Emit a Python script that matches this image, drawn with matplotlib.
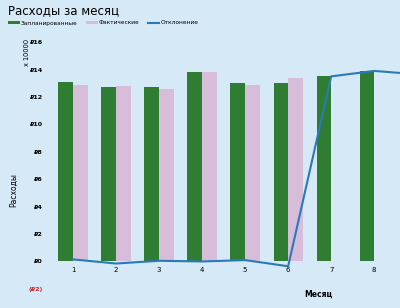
import matplotlib.pyplot as plt
import numpy as np

months = [1, 2, 3, 4, 5, 6, 7, 8]
planned = [13.1, 12.7, 12.7, 13.8, 13.0, 13.05, 13.5, 13.9]
actual = [12.9, 12.8, 12.55, 13.8, 12.85, 13.4, 0, 0]
dev_months = [1, 2, 3, 4, 5, 6, 7, 8, 9]
deviation = [0.15, -0.15, 0.05, 0.0, 0.1, -0.35, 13.5, 13.9, 13.65]
yticks = [-2, 0, 2, 4, 6, 8, 10, 12, 14, 16]

bg = '#d6e9f6'
green = '#2f7d32'
pink = '#d8bddb'
blue = '#2a7ab8'

fig = plt.figure(figsize=(4, 3.08), dpi=100, facecolor=bg)
ax = fig.add_axes([50 / 400, 1 - 293 / 308, 350 / 400, (293 - 38) / 308])
ax.set_facecolor(bg)

x = np.array(months)
w = 0.34
b1 = ax.bar(x - w / 2, planned, width=w, color=green, label='Запланированные')
b2 = ax.bar(x + w / 2, actual, width=w, color=pink, label='Фактические')
l1, = ax.plot(dev_months, deviation, color=blue, linewidth=1.5, label='Отклонение')

ax.set_xlim(0.465, 8.6)
ax.set_ylim(-2.3, 16.3)
for s in ax.spines.values():
    s.set_visible(False)
ax.spines['bottom'].set_position(('data', 0))
ax.set_xticks(months)
ax.set_xticklabels([str(m) for m in months], fontsize=5)
ax.set_yticks(yticks)
labels = []
for v in yticks:
    labels.append('(₽%d)' % abs(v) if v < 0 else '₽%d' % v)
ax.set_yticklabels(labels, fontsize=4.6, fontweight='bold')
for t, v in zip(ax.get_yticklabels(), yticks):
    if v < 0:
        t.set_color('#d62020')
ax.tick_params(axis='y', length=0, pad=5)
ax.tick_params(axis='x', length=0, pad=4)

fig.text(8 / 400, 1 - 11 / 308, 'Расходы за месяц', fontsize=8.5, va='center', ha='left')
fig.text(27 / 400, 1 - 52 / 308, 'x 10000', fontsize=4.8, rotation=90, va='center', ha='center')
fig.text(14 / 400, 1 - 190 / 308, 'Расходы', fontsize=5.5, rotation=90, va='center', ha='center')
fig.text(318 / 400, 1 - 294 / 308, 'Месяц', fontsize=5.5, fontweight='bold', va='center', ha='center')

fig.legend([b1, b2, l1], ['Запланированные', 'Фактические', 'Отклонение'],
           loc='center left', bbox_to_anchor=(4 / 400, 1 - 23 / 308), ncol=3, frameon=False,
           fontsize=4.2, handlelength=2.0, handleheight=0.5, handletextpad=0.2, columnspacing=1.4,
           borderpad=0.2)

fig.savefig('out.png', dpi=100, facecolor=bg)
